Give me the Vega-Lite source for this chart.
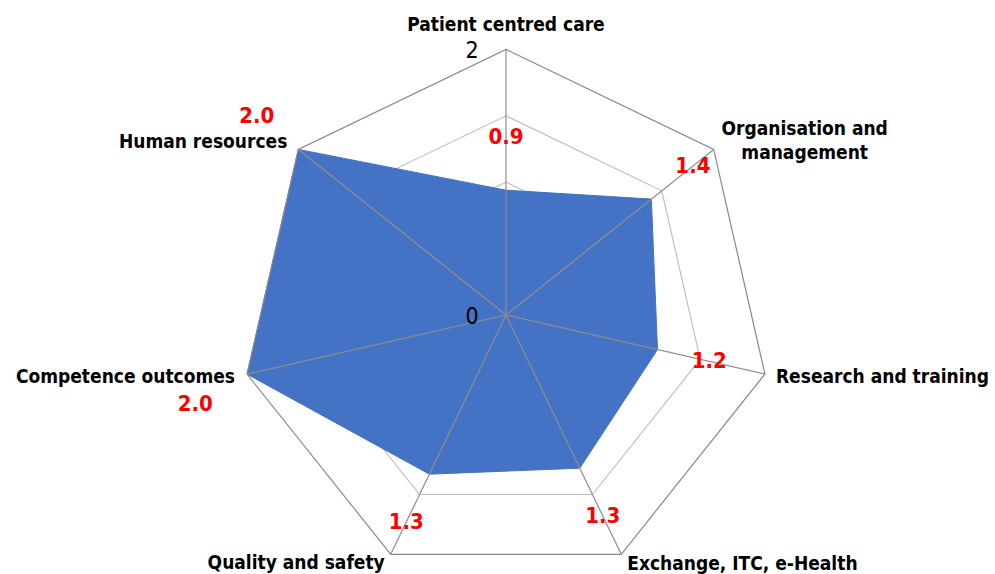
{
  "$schema": "https://vega.github.io/schema/vega-lite/v6.json",
  "width": 995,
  "height": 574,
  "autosize": {"type": "none"},
  "padding": 0,
  "background": "white",
  "config": {"view": {"stroke": null}},
  "datasets": {
    "scores": [
      {"category": "Patient centred care", "label": "Patient centred care", "i": 0, "value": 0.94},
      {"category": "Organisation and management", "label": "Organisation and\nmanagement", "i": 1, "value": 1.4},
      {"category": "Research and training", "label": "Research and training", "i": 2, "value": 1.17},
      {"category": "Exchange, ITC, e-Health", "label": "Exchange, ITC, e-Health", "i": 3, "value": 1.28},
      {"category": "Quality and safety", "label": "Quality and safety", "i": 4, "value": 1.33},
      {"category": "Competence outcomes", "label": "Competence outcomes", "i": 5, "value": 2.0},
      {"category": "Human resources", "label": "Human resources", "i": 6, "value": 2.0}
    ],
    "grid": [
      {"level": 0.5, "i": 0}, {"level": 0.5, "i": 1}, {"level": 0.5, "i": 2}, {"level": 0.5, "i": 3}, {"level": 0.5, "i": 4}, {"level": 0.5, "i": 5}, {"level": 0.5, "i": 6},
      {"level": 1, "i": 0}, {"level": 1, "i": 1}, {"level": 1, "i": 2}, {"level": 1, "i": 3}, {"level": 1, "i": 4}, {"level": 1, "i": 5}, {"level": 1, "i": 6},
      {"level": 1.5, "i": 0}, {"level": 1.5, "i": 1}, {"level": 1.5, "i": 2}, {"level": 1.5, "i": 3}, {"level": 1.5, "i": 4}, {"level": 1.5, "i": 5}, {"level": 1.5, "i": 6},
      {"level": 2, "i": 0}, {"level": 2, "i": 1}, {"level": 2, "i": 2}, {"level": 2, "i": 3}, {"level": 2, "i": 4}, {"level": 2, "i": 5}, {"level": 2, "i": 6}
    ],
    "ticks": [{"tick": 0}, {"tick": 2}]
  },
  "data": {"name": "scores"},
  "encoding": {
    "x": {"field": "x", "type": "quantitative", "axis": null, "scale": {"domain": [-3.810, 3.682], "nice": false, "zero": false}},
    "y": {"field": "y", "type": "quantitative", "axis": null, "scale": {"domain": [-1.950, 2.372], "nice": false, "zero": false}}
  },
  "layer": [
    {
      "data": {"name": "grid"},
      "transform": [
        {"filter": "datum.level < 2"},
        {"calculate": "datum.level*sin(datum.i*2*PI/7)", "as": "x"},
        {"calculate": "datum.level*cos(datum.i*2*PI/7)", "as": "y"}
      ],
      "mark": {"type": "line", "interpolate": "linear-closed", "color": "#BFBFBF", "strokeWidth": 1.2},
      "encoding": {"detail": {"field": "level"}, "order": {"field": "i", "type": "quantitative"}}
    },
    {
      "transform": [
        {"calculate": "datum.value*sin(datum.i*2*PI/7)", "as": "x"},
        {"calculate": "datum.value*cos(datum.i*2*PI/7)", "as": "y"}
      ],
      "mark": {"type": "line", "interpolate": "linear-closed", "color": "#4472C4", "fill": "#4472C4", "strokeWidth": 1},
      "encoding": {"order": {"field": "i", "type": "quantitative"}}
    },
    {
      "data": {"name": "grid"},
      "transform": [
        {"filter": "datum.level == 2"},
        {"calculate": "datum.level*sin(datum.i*2*PI/7)", "as": "x"},
        {"calculate": "datum.level*cos(datum.i*2*PI/7)", "as": "y"}
      ],
      "mark": {"type": "line", "interpolate": "linear-closed", "color": "#898989", "strokeWidth": 1.2},
      "encoding": {"order": {"field": "i", "type": "quantitative"}}
    },
    {
      "data": {"name": "grid"},
      "transform": [
        {"filter": "datum.level == 2"},
        {"calculate": "datum.level*sin(datum.i*2*PI/7)", "as": "x"},
        {"calculate": "datum.level*cos(datum.i*2*PI/7)", "as": "y"}
      ],
      "mark": {"type": "rule", "color": "#8E8E8E", "strokeWidth": 1.2},
      "encoding": {"x2": {"datum": 0}, "y2": {"datum": 0}}
    },
    {
      "data": {"name": "ticks"},
      "transform": [
        {"calculate": "0", "as": "x"},
        {"calculate": "datum.tick", "as": "y"}
      ],
      "mark": {"type": "text", "font": "DejaVu Sans Condensed", "fontSize": 23, "color": "#000000", "align": "center", "baseline": "middle", "dx": -34, "dy": 2},
      "encoding": {"text": {"field": "tick", "type": "quantitative"}}
    },
    {
      "transform": [
        {"filter": "datum.i != 5"},
        {"calculate": "(datum.value+0.4)*sin(datum.i*2*PI/7)", "as": "x"},
        {"calculate": "(datum.value+0.4)*cos(datum.i*2*PI/7)", "as": "y"}
      ],
      "mark": {"type": "text", "font": "DejaVu Sans Condensed", "fontSize": 22, "fontWeight": "bold", "color": "#FF0000", "align": "center", "baseline": "middle"},
      "encoding": {"text": {"field": "value", "type": "quantitative", "format": ".1f"}}
    },
    {
      "transform": [
        {"filter": "datum.i == 5"},
        {"calculate": "(datum.value+0.4)*sin(datum.i*2*PI/7)", "as": "x"},
        {"calculate": "(datum.value+0.4)*cos(datum.i*2*PI/7)", "as": "y"}
      ],
      "mark": {"type": "text", "font": "DejaVu Sans Condensed", "fontSize": 22, "fontWeight": "bold", "color": "#FF0000", "align": "center", "baseline": "middle", "dy": 18},
      "encoding": {"text": {"field": "value", "type": "quantitative", "format": ".1f"}}
    },
    {
      "transform": [
        {"filter": "datum.i == 0"},
        {"calculate": "2*sin(datum.i*2*PI/7)", "as": "x"},
        {"calculate": "2*cos(datum.i*2*PI/7)", "as": "y"}
      ],
      "mark": {"type": "text", "font": "DejaVu Sans Condensed", "fontSize": 19, "fontWeight": "bold", "color": "#000000", "align": "center", "baseline": "alphabetic", "dy": -18},
      "encoding": {"text": {"field": "label"}}
    },
    {
      "transform": [
        {"filter": "datum.i == 1"},
        {"calculate": "2*sin(datum.i*2*PI/7)", "as": "x"},
        {"calculate": "2*cos(datum.i*2*PI/7)", "as": "y"}
      ],
      "mark": {"type": "text", "font": "DejaVu Sans Condensed", "fontSize": 19, "fontWeight": "bold", "color": "#000000", "align": "center", "baseline": "alphabetic", "dx": 91, "dy": -14, "lineBreak": "\n", "lineHeight": 24},
      "encoding": {"text": {"field": "label"}}
    },
    {
      "transform": [
        {"filter": "datum.i == 2"},
        {"calculate": "2*sin(datum.i*2*PI/7)", "as": "x"},
        {"calculate": "2*cos(datum.i*2*PI/7)", "as": "y"}
      ],
      "mark": {"type": "text", "font": "DejaVu Sans Condensed", "fontSize": 19, "fontWeight": "bold", "color": "#000000", "align": "left", "baseline": "alphabetic", "dx": 11, "dy": 9},
      "encoding": {"text": {"field": "label"}}
    },
    {
      "transform": [
        {"filter": "datum.i == 3"},
        {"calculate": "2*sin(datum.i*2*PI/7)", "as": "x"},
        {"calculate": "2*cos(datum.i*2*PI/7)", "as": "y"}
      ],
      "mark": {"type": "text", "font": "DejaVu Sans Condensed", "fontSize": 19, "fontWeight": "bold", "color": "#000000", "align": "left", "baseline": "alphabetic", "dx": 6, "dy": 16},
      "encoding": {"text": {"field": "label"}}
    },
    {
      "transform": [
        {"filter": "datum.i == 4"},
        {"calculate": "2*sin(datum.i*2*PI/7)", "as": "x"},
        {"calculate": "2*cos(datum.i*2*PI/7)", "as": "y"}
      ],
      "mark": {"type": "text", "font": "DejaVu Sans Condensed", "fontSize": 19, "fontWeight": "bold", "color": "#000000", "align": "right", "baseline": "alphabetic", "dx": -6, "dy": 15},
      "encoding": {"text": {"field": "label"}}
    },
    {
      "transform": [
        {"filter": "datum.i == 5"},
        {"calculate": "2*sin(datum.i*2*PI/7)", "as": "x"},
        {"calculate": "2*cos(datum.i*2*PI/7)", "as": "y"}
      ],
      "mark": {"type": "text", "font": "DejaVu Sans Condensed", "fontSize": 19, "fontWeight": "bold", "color": "#000000", "align": "right", "baseline": "alphabetic", "dx": -12, "dy": 9},
      "encoding": {"text": {"field": "label"}}
    },
    {
      "transform": [
        {"filter": "datum.i == 6"},
        {"calculate": "2*sin(datum.i*2*PI/7)", "as": "x"},
        {"calculate": "2*cos(datum.i*2*PI/7)", "as": "y"}
      ],
      "mark": {"type": "text", "font": "DejaVu Sans Condensed", "fontSize": 19, "fontWeight": "bold", "color": "#000000", "align": "right", "baseline": "alphabetic", "dx": -11, "dy": -1},
      "encoding": {"text": {"field": "label"}}
    }
  ]
}
